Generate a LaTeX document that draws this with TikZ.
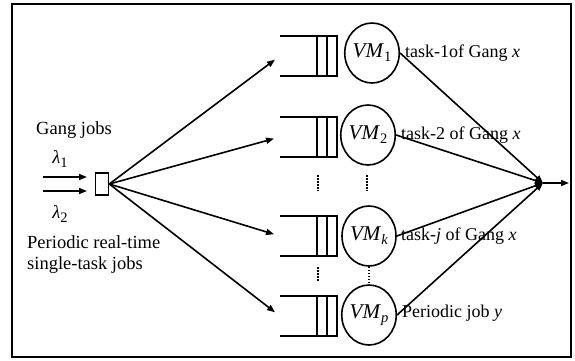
\documentclass[tikz,border=0pt]{standalone}
\usepackage{fontspec}
\setmainfont{Liberation Serif}
\usetikzlibrary{arrows.meta,shapes.geometric}
\newcommand{\vmsub}[1]{\textit{VM}\raisebox{-0.4ex}{\fontsize{14.5}{14.5}\selectfont #1}}
\newcommand{\lamsub}[1]{\textit{λ}\raisebox{-0.4ex}{\fontsize{14.5}{14.5}\selectfont #1}}
\begin{document}
\begin{tikzpicture}[x=1pt,y=-1pt,
  lbl/.style={font=\fontsize{18.5}{20}\selectfont, inner sep=0pt},
  tlbl/.style={font=\fontsize{18}{20}\selectfont, inner sep=0pt},
  vm/.style={ellipse,draw,line width=1.6pt,minimum width=54pt,minimum height=60pt,inner sep=0pt,font=\fontsize{21}{23}\selectfont},
  queue/.style={rectangle,minimum width=57pt,minimum height=40pt,inner sep=0pt},
  ln/.style={line width=1.6pt},
  arr/.style={ln,-{Triangle[length=8pt,width=6pt]}},
  dotline/.style={line width=2.5pt,dash pattern=on 1.5pt off 1.5pt}
]
\useasboundingbox (0,0) rectangle (575,360);
\node[draw,line width=2.5pt,minimum width=559pt,minimum height=353pt,inner sep=0pt] (frame) at (291.5,180.5) {};

% source box
\node[draw,ln,minimum width=13pt,minimum height=22pt,inner sep=0pt] (bx) at (102,184) {};
\coordinate (i1s) at (43,177); \coordinate (i1e) at (87,177);
\coordinate (i2s) at (43,191); \coordinate (i2e) at (87,191);
\draw[arr] (i1s) -- (i1e);
\draw[arr] (i2s) -- (i2e);

% left labels
\node[lbl] (gang) at (74,130) {Gang jobs};
\node[lbl] (l1) at (60,159) {\lamsub{1}};
\node[lbl] (l2) at (60,214) {\lamsub{2}};
\node[lbl,anchor=west] (per1) at (27,242) {Periodic real-time};
\node[lbl,anchor=west] (per2) at (27,265) {single-task jobs};

% queues
\node[queue] (q1) at (308.5,56) {};
\node[queue] (q2) at (308.5,137) {};
\node[queue] (qk) at (308.5,236) {};
\node[queue] (qp) at (308.5,316) {};
\foreach \q in {q1,q2,qk,qp} {
  \draw[ln] (\q.north west) -- (\q.north east) -- (\q.south east) -- (\q.south west);
  \draw[ln] ([xshift=-10pt]\q.north east) -- ([xshift=-10pt]\q.south east);
  \draw[ln] ([xshift=-20pt]\q.north east) -- ([xshift=-20pt]\q.south east);
}

% VMs
\node[vm] (vm1) at (372,53) {\vmsub{1}};
\node[vm] (vm2) at (368,135) {\vmsub{2}};
\node[vm] (vmk) at (369,236) {\vmsub{\textit{k}}};
\node[vm] (vmp) at (369,315) {\vmsub{\textit{p}}};

% fan-out
\foreach \q in {q1,q2,qk,qp} {
  \draw[arr,shorten >=6pt] (bx.east) -- (\q.west);
}

% dots
\coordinate (d1a) at (318,175); \coordinate (d1b) at (318,191);
\coordinate (d2a) at (318,267); \coordinate (d2b) at (318,282);
\draw[dotline] (d1a) -- (d1b);
\draw[dotline] (d2a) -- (d2b);
\coordinate (d3a) at (367,175); \coordinate (d3b) at (367,191);
\draw[dotline] (d3a) -- (d3b);
\draw[dotline] (vmk.south) -- (vmp.north);

% labels of tasks
\node[tlbl,anchor=west] (t1) at (405,53) {task-1of Gang \textit{x}};
\node[tlbl,anchor=west] (t2) at (401,135) {task-2 of Gang \textit{x}};
\node[tlbl,anchor=west] (tk) at (401,236) {task-\textit{j} of Gang \textit{x}};
\node[tlbl,anchor=west] (tp) at (402,313) {Periodic job \textit{y}};

% merge
\coordinate (m) at (543,183);
\coordinate (out) at (569,183);
\foreach \v in {vm1,vm2,vmk,vmp} {
  \draw[arr] (\v.east) -- (m);
}
\draw[arr] (m) -- (out);
\end{tikzpicture}
\end{document}
